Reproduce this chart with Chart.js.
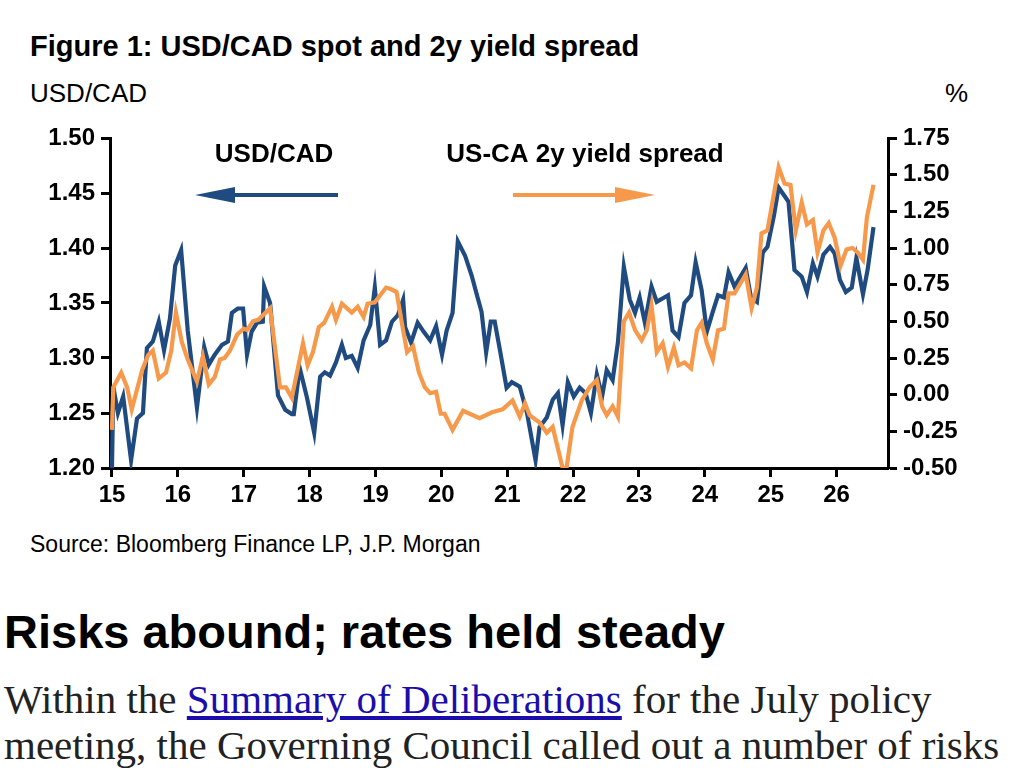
<!DOCTYPE html>
<html>
<head>
<meta charset="utf-8">
<script src="https://cdn.jsdelivr.net/npm/chart.js@4.4.1/dist/chart.umd.min.js"></script>
<style>
  body { margin: 0; background: #fff; width: 1020px; height: 770px; overflow: hidden; position: relative; }
  .narrow { font-family: "Liberation Sans", Arial, sans-serif; position: absolute; color: #000; }
  #title { left: 30px; top: 30px; font-size: 29px; font-weight: bold; }
  #lunit { left: 30px; top: 78px; font-size: 26px; }
  #runit { left: 945px; top: 78px; font-size: 26px; }
  #source { left: 30px; top: 531px; font-size: 23px; }
  #wrap { position: absolute; left: 0; top: 100px; width: 1000px; height: 418px; }
  h2 { position: absolute; left: 4px; top: 604px; margin: 0; font-family: "Liberation Sans", Arial, sans-serif; font-size: 47px; font-weight: bold; }
  p { position: absolute; left: 4px; top: 676px; margin: 0; font-family: "Liberation Serif", "Times New Roman", serif; font-size: 41px; line-height: 46px; color: #222; width: 1014px; }
  a { color: #1a0dab; }
</style>
</head>
<body>
<div id="title" class="narrow">Figure 1: USD/CAD spot and 2y yield spread</div>
<div id="lunit" class="narrow">USD/CAD</div>
<div id="runit" class="narrow">%</div>
<div id="wrap"><canvas id="c"></canvas></div>
<div id="source" class="narrow">Source: Bloomberg Finance LP, J.P. Morgan</div>
<h2>Risks abound; rates held steady</h2>
<p>Within the <a href="#">Summary of Deliberations</a> for the July policy meeting, the Governing Council called out a number of risks</p>
<script>
// USD/CAD spot (left axis), dates as decimal years (15 = 2015)
const usdDates = [15.00,15.02,15.09,15.17,15.29,15.38,15.47,15.53,15.62,15.71,15.79,15.88,15.96,16.05,16.15,16.29,16.40,16.47,16.56,16.67,16.76,16.82,16.91,16.99,17.05,17.12,17.20,17.29,17.31,17.40,17.52,17.63,17.73,17.76,17.85,17.96,18.07,18.16,18.23,18.31,18.40,18.49,18.55,18.64,18.73,18.82,18.92,18.99,19.07,19.16,19.25,19.34,19.42,19.45,19.54,19.64,19.73,19.83,19.92,20.01,20.08,20.17,20.25,20.36,20.46,20.55,20.61,20.68,20.75,20.81,20.89,20.99,21.07,21.19,21.30,21.43,21.49,21.60,21.69,21.77,21.84,21.92,22.01,22.10,22.19,22.27,22.36,22.44,22.51,22.60,22.68,22.77,22.86,22.94,23.01,23.09,23.19,23.27,23.44,23.51,23.60,23.69,23.79,23.86,23.95,24.03,24.12,24.20,24.29,24.36,24.45,24.62,24.70,24.79,24.88,24.95,25.05,25.12,25.27,25.36,25.47,25.55,25.64,25.71,25.80,25.90,25.97,26.05,26.14,26.23,26.30,26.40,26.47,26.56];
const usdcad = [1.200,1.274,1.250,1.265,1.207,1.245,1.250,1.309,1.315,1.333,1.307,1.336,1.384,1.398,1.325,1.255,1.310,1.294,1.303,1.312,1.315,1.341,1.345,1.345,1.303,1.324,1.332,1.333,1.365,1.350,1.266,1.253,1.249,1.249,1.291,1.264,1.232,1.283,1.287,1.284,1.296,1.312,1.300,1.302,1.291,1.316,1.330,1.364,1.312,1.316,1.333,1.339,1.353,1.328,1.314,1.332,1.324,1.316,1.329,1.303,1.325,1.341,1.406,1.393,1.375,1.355,1.342,1.305,1.333,1.333,1.307,1.273,1.278,1.274,1.250,1.207,1.237,1.246,1.262,1.268,1.239,1.278,1.265,1.273,1.268,1.250,1.285,1.265,1.289,1.280,1.314,1.383,1.353,1.341,1.355,1.332,1.365,1.351,1.357,1.325,1.319,1.350,1.357,1.387,1.362,1.324,1.342,1.357,1.355,1.378,1.365,1.382,1.355,1.351,1.396,1.401,1.430,1.455,1.442,1.380,1.374,1.360,1.386,1.374,1.394,1.401,1.395,1.371,1.360,1.364,1.391,1.358,1.380,1.419];

// US-CA 2y yield spread (right axis, %)
const spreadDates = [15.00,15.02,15.14,15.23,15.30,15.46,15.55,15.62,15.71,15.82,15.90,15.97,16.06,16.15,16.29,16.38,16.47,16.56,16.64,16.71,16.79,16.90,17.00,17.05,17.14,17.22,17.40,17.55,17.64,17.73,17.90,17.97,18.05,18.14,18.22,18.34,18.40,18.49,18.64,18.73,18.82,18.88,18.99,19.16,19.23,19.32,19.40,19.48,19.57,19.66,19.75,19.83,19.92,19.99,20.05,20.17,20.33,20.58,20.77,20.93,21.08,21.19,21.27,21.34,21.49,21.60,21.69,21.84,21.90,21.99,22.13,22.25,22.36,22.44,22.51,22.60,22.68,22.77,22.85,22.94,23.04,23.12,23.19,23.27,23.36,23.44,23.53,23.60,23.69,23.79,23.88,23.95,24.03,24.12,24.20,24.29,24.36,24.45,24.62,24.71,24.79,24.86,24.95,25.12,25.21,25.30,25.38,25.47,25.55,25.64,25.71,25.80,25.88,25.97,26.06,26.15,26.24,26.32,26.40,26.46,26.56];
const spread = [-0.24,0.05,0.15,0.05,-0.10,0.17,0.27,0.30,0.11,0.15,0.30,0.56,0.36,0.24,0.09,0.26,0.07,0.12,0.24,0.25,0.30,0.41,0.45,0.44,0.50,0.51,0.59,0.05,0.05,-0.02,0.35,0.20,0.29,0.46,0.49,0.60,0.51,0.62,0.56,0.60,0.53,0.62,0.63,0.73,0.72,0.70,0.49,0.29,0.33,0.15,0.05,0.01,0.02,-0.13,-0.13,-0.24,-0.11,-0.16,-0.12,-0.10,-0.04,-0.15,-0.06,-0.14,-0.19,-0.26,-0.22,-0.50,-0.50,-0.22,-0.04,0.05,0.10,-0.08,-0.14,-0.08,-0.15,0.50,0.56,0.44,0.37,0.44,0.61,0.29,0.35,0.19,0.32,0.20,0.22,0.18,0.44,0.49,0.35,0.24,0.44,0.45,0.69,0.69,0.82,0.59,0.73,1.10,1.12,1.55,1.44,1.43,1.12,1.31,1.16,1.19,0.97,1.12,1.17,1.07,0.88,0.99,1.00,0.97,0.92,1.21,1.43];

const yearTicks = [15,16,17,18,19,20,21,22,23,24,25,26];

const BLUE = "#1F4B80", ORANGE = "#F7994A";
const tickFont = { family: "Liberation Sans", size: 24, weight: "bold" };

const labels = {
  id: "labels",
  afterDatasetsDraw(chart) {
    const ctx = chart.ctx;
    ctx.save();
    ctx.font = "bold 26px 'Liberation Sans'";
    ctx.fillStyle = "#000";
    ctx.textAlign = "center";
    ctx.textBaseline = "middle";
    ctx.fillText("USD/CAD", 274, 55);
    ctx.fillText("US-CA 2y yield spread", 585, 55);
    function arrow(x1, x2, y, col) {
      ctx.strokeStyle = col; ctx.fillStyle = col; ctx.lineWidth = 4;
      const dir = x2 > x1 ? 1 : -1;
      ctx.beginPath(); ctx.moveTo(x1, y); ctx.lineTo(x2 - dir * 30, y); ctx.stroke();
      ctx.beginPath(); ctx.moveTo(x2, y); ctx.lineTo(x2 - dir * 40, y - 8); ctx.lineTo(x2 - dir * 40, y + 8); ctx.closePath(); ctx.fill();
    }
    arrow(338, 195, 95, BLUE);
    arrow(513, 655, 95, ORANGE);
    ctx.restore();
  }
};

new Chart(document.getElementById("c"), {
  type: "line",
  data: {
    datasets: [
      { label: "US-CA 2y yield spread", data: spreadDates.map((d, i) => ({ x: d, y: spread[i] })), yAxisID: "y2", borderColor: ORANGE, borderWidth: 4.2, pointRadius: 0, tension: 0, order: 1 },
      { label: "USD/CAD", data: usdDates.map((d, i) => ({ x: d, y: usdcad[i] })), yAxisID: "y", borderColor: BLUE, borderWidth: 4.2, pointRadius: 0, tension: 0, order: 2 }
    ]
  },
  options: {
    responsive: true,
    maintainAspectRatio: false,
    animation: false,
    layout: { padding: { top: 38 } },
    plugins: { legend: { display: false }, tooltip: { enabled: false } },
    scales: {
      x: {
        type: "linear", min: 14.97, max: 26.78,
        afterBuildTicks: s => { s.ticks = yearTicks.map(v => ({ value: v })); },
        afterFit: s => { s.height = 50; },
        ticks: { color: "#000", font: tickFont, maxRotation: 0, padding: 4, callback: v => String(v) },
        grid: { drawOnChartArea: false, tickLength: 9, tickWidth: 3, tickColor: "#000" },
        border: { color: "#000", width: 3 }
      },
      y: {
        position: "left", min: 1.2, max: 1.5,
        afterFit: s => { s.width = 110; },
        ticks: { stepSize: 0.05, color: "#000", font: tickFont, padding: 6, callback: v => v.toFixed(2) },
        grid: { drawOnChartArea: false, tickLength: 9, tickWidth: 3, tickColor: "#000" },
        border: { color: "#000", width: 3 }
      },
      y2: {
        position: "right", min: -0.5, max: 1.75,
        afterFit: s => { s.width = 112; },
        ticks: { stepSize: 0.25, color: "#000", font: tickFont, padding: 6, callback: v => v.toFixed(2) },
        grid: { drawOnChartArea: false, tickLength: 9, tickWidth: 3, tickColor: "#000" },
        border: { color: "#000", width: 3 }
      }
    }
  },
  plugins: [labels]
});
</script>
</body>
</html>
